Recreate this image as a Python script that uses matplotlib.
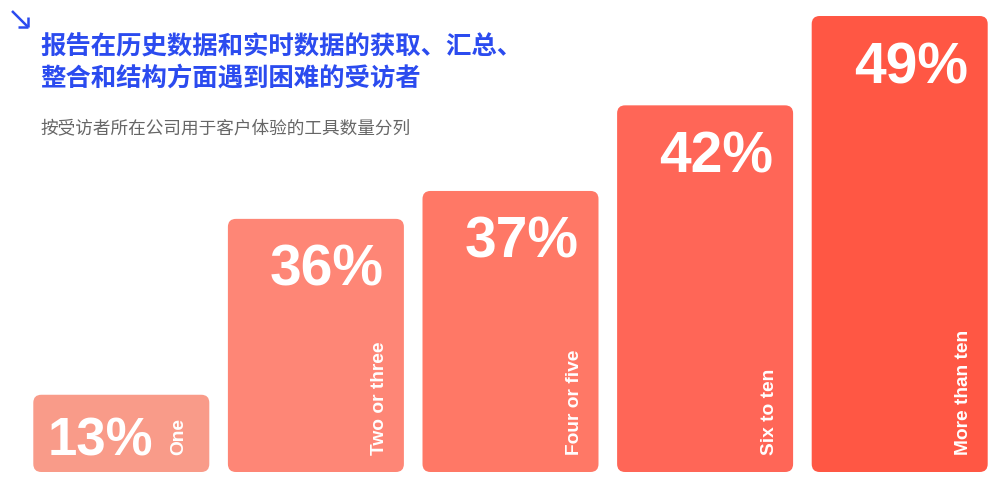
import matplotlib
matplotlib.use("Agg")
import matplotlib.pyplot as plt
from matplotlib.patches import FancyBboxPatch
from matplotlib.lines import Line2D

# ---- data ----
categories = ["One", "Two or three", "Four or five", "Six to ten", "More than ten"]
values = [13, 36, 37, 42, 49]                 # percentages shown as labels
bar_lengths = [8.3, 27.2, 30.2, 39.4, 49.0]   # displayed bar lengths (as drawn in the infographic)
value_labels = [f"{v}%" for v in values]
colors = ["#F99B89", "#FE8676", "#FF7866", "#FF6657", "#FF5744"]

title = "报告在历史数据和实时数据的获取、汇总、\n整合和结构方面遇到困难的受访者"
subtitle = "按受访者所在公司用于客户体验的工具数量分列"

W, H = 1000, 500
fig = plt.figure(figsize=(W / 100, H / 100), dpi=100)
fig.patch.set_facecolor("white")

# axes placed so bars fill the lower area
ax_left, ax_right = 24 / W, 997 / W
ax_bottom, ax_top = (H - 472) / H, (H - 16) / H
ax = fig.add_axes([ax_left, ax_bottom, ax_right - ax_left, ax_top - ax_bottom])
ax.set_xlim(-0.5, 4.5)
ax.set_ylim(0, 49)
ax.axis("off")

x_px = (ax_right - ax_left) * W / 5.0      # pixels per x unit
y_px = (ax_top - ax_bottom) * H / 49.0     # pixels per y unit
bar_w = 176 / x_px
radius_px = 8
aspect = x_px / y_px

bars = ax.bar(range(len(categories)), bar_lengths, width=bar_w, color=colors)
for rect, c in zip(bars, colors):
    x0, y0 = rect.get_x(), rect.get_y()
    w, h = rect.get_width(), rect.get_height()
    rect.set_visible(False)
    p = FancyBboxPatch((x0, y0), w, h,
                       boxstyle=f"round,pad=0,rounding_size={radius_px / x_px}",
                       mutation_aspect=aspect, facecolor=c, edgecolor="none")
    ax.add_patch(p)

num_font = dict(family=["Liberation Sans", "DejaVu Sans"], weight="bold", color="white")
for i, (rect, lab, cat) in enumerate(zip(bars, value_labels, categories)):
    x0, w, h = rect.get_x(), rect.get_width(), rect.get_height()
    right = x0 + w
    if i == 0:
        ax.text(x0 + 14 / x_px, 17 / y_px, lab, ha="left", va="baseline",
                fontsize=38, **num_font)
        cat_x = right - 31 / x_px
    else:
        ax.text(right - 20 / x_px, h - 25 / y_px, lab, ha="right", va="top",
                fontsize=41, **num_font)
        cat_x = right - 24 / x_px
    ax.text(cat_x, 17 / y_px, cat, rotation=90, ha="center", va="bottom",
            fontsize=13.8, **num_font)

# titles
fig.text(40 / W, 1 - 33 / H, title, ha="left", va="top", fontsize=18.3,
         fontweight="bold", color="#2B4BEF", linespacing=1.2,
         family=["Noto Sans CJK SC", "DejaVu Sans"])
fig.text(40 / W, 1 - 128 / H, subtitle, ha="left", va="center", fontsize=12.7,
         color="#666666", family=["Noto Sans CJK SC", "DejaVu Sans"])

# small corner arrow decoration (figure pixel coords)
def fp(x, y):
    return x / W, 1 - y / H
for (xa, ya), (xb, yb) in [((12, 11), (28, 27)), ((28, 17), (28, 27)), ((18, 27), (28, 27))]:
    (x1, y1), (x2, y2) = fp(xa, ya), fp(xb, yb)
    fig.add_artist(Line2D([x1, x2], [y1, y2], transform=fig.transFigure,
                          color="#2B4BEF", lw=1.8, solid_capstyle="butt"))

fig.savefig("out.png", dpi=100, facecolor="white")
